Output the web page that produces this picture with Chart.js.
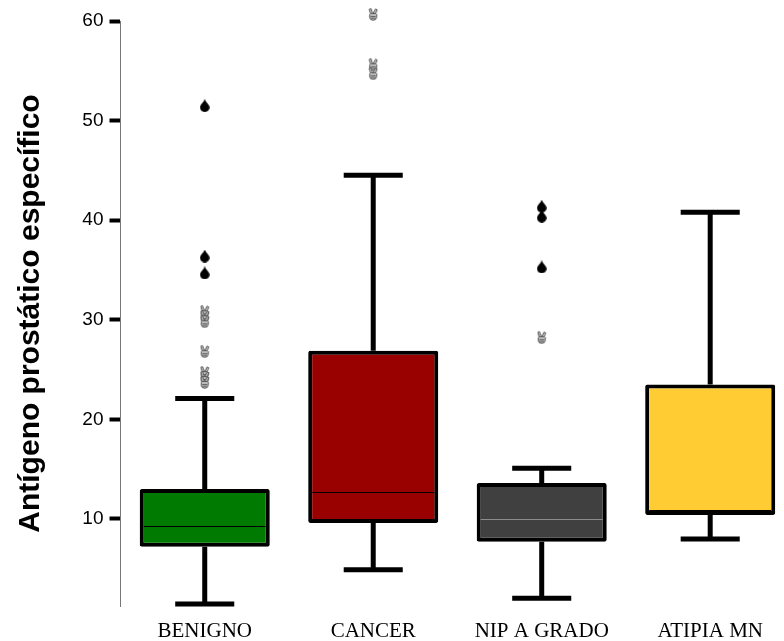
<!DOCTYPE html>
<html><head><meta charset="utf-8">
<script src="https://cdn.jsdelivr.net/npm/chart.js@4.4.0/dist/chart.umd.min.js"></script>
<style>html,body{margin:0;padding:0;background:#fff;overflow:hidden}</style>
</head><body>
<canvas id="c" width="784" height="641"></canvas>
<script>
// ---- data ----
const categories = ['BENIGNO', 'CANCER', 'NIP A GRADO', 'ATIPIA MN'];
const whiskerLow  = [1.45, 4.9, 2.05, 8.0];
const q1          = [7.2, 9.6, 7.7, 10.4];
const median      = [9.3, 12.7, 10.0, 10.9];
const q3          = [13.0, 26.9, 13.6, 23.5];
const whiskerHigh = [22.1, 44.5, 15.1, 40.8];
const outliersDrop = [[51.5, 36.4, 34.7], [], [41.4, 40.4, 35.3], []];
const outliersExtreme = [[30.8, 30.3, 29.8, 26.8, 24.7, 24.2, 23.7], [60.65, 55.6, 54.7], [28.2], []];
const yTicks = [10, 20, 30, 40, 50, 60];
const yTitle = 'Antígeno prostático específico';

// ---- styles ----
const boxColors = ['#007a00', '#990000', '#404040', '#ffcc33'];
const medianColors = ['#000000', '#000000', '#8c8c8c', '#000000'];

function makeDrop() {
  const c = document.createElement('canvas'); c.width = 10; c.height = 13;
  const g = c.getContext('2d'); g.fillStyle = '#000';
  g.beginPath(); g.moveTo(5, 0);
  g.bezierCurveTo(6, 3, 9.8, 5.5, 9.8, 8.2);
  g.arc(5, 8.2, 4.8, 0, Math.PI, false);
  g.bezierCurveTo(0.2, 5.5, 4, 3, 5, 0);
  g.fill();
  return c;
}
function makeVictory() {
  const c = document.createElement('canvas'); c.width = 10; c.height = 13;
  const g = c.getContext('2d');
  g.strokeStyle = '#555'; g.fillStyle = '#c8c8c8'; g.lineWidth = 1; g.lineJoin = 'round';
  g.beginPath(); g.moveTo(2.6, 6.5); g.lineTo(1.0, 1.2); g.lineTo(2.9, 0.7); g.lineTo(4.6, 5.8); g.closePath(); g.fill(); g.stroke();
  g.beginPath(); g.moveTo(4.8, 5.8); g.lineTo(7.3, 0.9); g.lineTo(9.0, 1.8); g.lineTo(6.9, 6.6); g.closePath(); g.fill(); g.stroke();
  g.beginPath();
  g.moveTo(2.2, 5.6); g.lineTo(7.8, 5.6); g.quadraticCurveTo(9, 5.8, 8.6, 8.5);
  g.quadraticCurveTo(8.2, 12.3, 5, 12.3); g.quadraticCurveTo(1.6, 12.3, 1.4, 8.8);
  g.quadraticCurveTo(1.2, 6, 2.2, 5.6); g.closePath(); g.fill(); g.stroke();
  g.beginPath(); g.moveTo(2.4, 8.4); g.lineTo(7.6, 8.4); g.moveTo(2.6, 10.2); g.lineTo(7, 10.2); g.stroke();
  return c;
}
const dropImg = makeDrop();
const vicImg = makeVictory();

const boxPlugin = {
  id: 'boxWhiskers',
  beforeDatasetsDraw(chart) {
    const { ctx, scales: { x, y } } = chart;
    const meta = chart.getDatasetMeta(0);
    ctx.save();
    ctx.strokeStyle = '#000'; ctx.lineWidth = 5; ctx.lineCap = 'butt';
    categories.forEach((c, i) => {
      const cx = x.getPixelForValue(i + 1);
      const half = meta.data[i].width * 0.227;
      const yh = y.getPixelForValue(whiskerHigh[i]), yl = y.getPixelForValue(whiskerLow[i]);
      ctx.beginPath();
      ctx.moveTo(cx, yh); ctx.lineTo(cx, y.getPixelForValue(q3[i]));
      ctx.moveTo(cx, y.getPixelForValue(q1[i])); ctx.lineTo(cx, yl);
      ctx.moveTo(cx - half, yh); ctx.lineTo(cx + half, yh);
      ctx.moveTo(cx - half, yl); ctx.lineTo(cx + half, yl);
      ctx.stroke();
    });
    ctx.restore();
  },
  afterDatasetDraw(chart, args) {
    if (args.index !== 0) return;
    const { ctx, scales: { y } } = chart;
    const meta = chart.getDatasetMeta(0);
    ctx.save();
    categories.forEach((c, i) => {
      const bar = meta.data[i];
      const ym = Math.round(y.getPixelForValue(median[i])) + 0.5;
      ctx.strokeStyle = medianColors[i]; ctx.lineWidth = 1;
      ctx.beginPath();
      ctx.moveTo(bar.x - bar.width / 2 + 4, ym); ctx.lineTo(bar.x + bar.width / 2 - 4, ym);
      ctx.stroke();
    });
    ctx.restore();
  }
};

const datasets = [{
  type: 'bar',
  data: categories.map((c, i) => ({ x: i + 1, y: [q1[i], q3[i]] })),
  backgroundColor: boxColors,
  borderColor: '#000',
  borderWidth: 4,
  borderSkipped: false,
  borderRadius: 2,
  barPercentage: 0.772,
  categoryPercentage: 1,
  grouped: false
}, {
  type: 'scatter',
  data: outliersDrop.flatMap((arr, i) => arr.map(v => ({ x: i + 1, y: v }))),
  pointStyle: dropImg,
  pointRadius: 12,
  clip: false
}, {
  type: 'scatter',
  data: outliersExtreme.flatMap((arr, i) => arr.map(v => ({ x: i + 1, y: v }))),
  pointStyle: vicImg,
  pointRadius: 12,
  clip: false
}];

new Chart(document.getElementById('c'), {
  type: 'bar',
  data: { datasets },
  plugins: [boxPlugin],
  options: {
    responsive: false,
    animation: false,
    events: [],
    layout: { autoPadding: false, padding: { top: 21, right: 0, bottom: 0, left: 0 } },
    plugins: { legend: { display: false }, tooltip: { enabled: false } },
    scales: {
      x: {
        type: 'linear', min: 0.5, max: 4.438, offset: false,
        grid: { display: false, drawTicks: false },
        border: { display: false },
        afterBuildTicks: s => { s.ticks = categories.map((c, i) => ({ value: i + 1 })); },
        ticks: {
          callback: (v, idx) => categories[idx],
          font: { family: 'Liberation Serif', size: 21 }, color: '#000',
          padding: 13, maxRotation: 0, autoSkip: false
        },
        afterFit: s => { s.height = 35; }
      },
      y: {
        min: 1.26, max: 60,
        afterBuildTicks: s => { s.ticks = yTicks.map(v => ({ value: v })); },
        grid: { drawOnChartArea: false, tickLength: 11, tickWidth: 4, tickColor: '#000' },
        border: { color: '#777', width: 1 },
        ticks: { font: { family: 'Liberation Sans', size: 19 }, color: '#000', padding: 6 },
        title: {
          display: true, text: yTitle, color: '#000',
          font: { family: 'Liberation Sans', size: 30, weight: 'bold' },
          padding: { top: 13, bottom: 0 }
        },
        afterFit: s => { s.width = 120.5; }
      }
    }
  }
});
</script>
</body></html>
